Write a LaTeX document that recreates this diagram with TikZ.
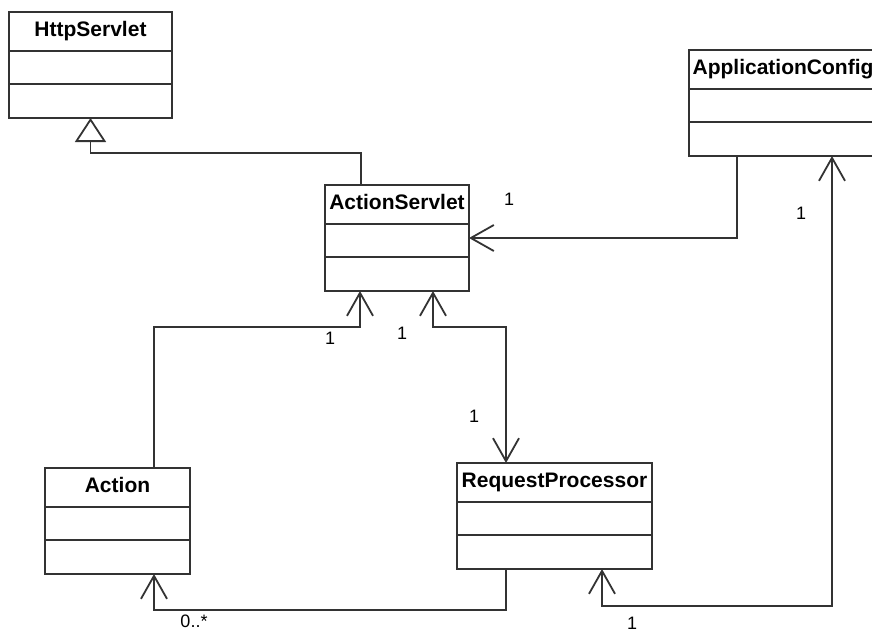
\documentclass[tikz,border=0pt]{standalone}
\usepackage{fontspec}
\setmainfont{Liberation Sans}
\setsansfont{Liberation Sans}
\usepackage{xcolor}
\usepackage{tikz}
\usetikzlibrary{shapes.multipart,arrows.meta,calc}
\definecolor{linegray}{rgb}{0.2,0.2,0.2}

\begin{document}
\begin{tikzpicture}[x=1pt, y=-1pt, font=\sffamily,
    umlclass/.style={rectangle split, rectangle split parts=3, draw=linegray, line width=1.8pt,
        inner xsep=0pt, inner ysep=0pt, outer sep=0pt, anchor=north west,
        font=\sffamily\fontsize{21}{24}\selectfont\bfseries},
    mult/.style={font=\sffamily\fontsize{18}{20}\selectfont, inner sep=0pt},
    gen/.style={draw=linegray, line width=1.8pt, -{Triangle[open, fill=white, length=24pt, width=31pt]}},
    assoc/.style={draw=linegray, line width=1.8pt, -{Straight Barb[length=23pt, width=26pt]}},
    assocboth/.style={draw=linegray, line width=1.8pt, {Straight Barb[length=23pt, width=26pt]}-{Straight Barb[length=23pt, width=26pt]}}]
        \useasboundingbox (0,0) rectangle (872,632);

        % Classes
        \node [umlclass, minimum width=163pt] (http) at (9,12)
            {\rule[-13.6pt]{0pt}{37.2pt}HttpServlet \nodepart{two}\rule{0pt}{31.2pt} \nodepart{three}\rule{0pt}{32.2pt}};
        \node [umlclass, minimum width=144pt] (asv) at (325,185)
            {\rule[-13.6pt]{0pt}{37.2pt}ActionServlet \nodepart{two}\rule{0pt}{31.2pt} \nodepart{three}\rule{0pt}{32.2pt}};
        \node [umlclass, minimum width=188pt] (cfg) at (689,50)
            {\rule[-13.6pt]{0pt}{37.2pt}ApplicationConfig \nodepart{two}\rule{0pt}{31.2pt} \nodepart{three}\rule{0pt}{32.2pt}};
        \node [umlclass, minimum width=145pt] (act) at (45,468)
            {\rule[-13.6pt]{0pt}{37.2pt}Action \nodepart{two}\rule{0pt}{31.2pt} \nodepart{three}\rule{0pt}{32.2pt}};
        \node [umlclass, minimum width=195pt] (rp) at (457,463)
            {\rule[-13.6pt]{0pt}{37.2pt}RequestProcessor \nodepart{two}\rule{0pt}{31.2pt} \nodepart{three}\rule{0pt}{32.2pt}};

        % Inheritance
        \draw [gen] ($(asv.north west)+(36,0)$) -- ++(0,-32) -| (http.south);

        % Associations
        \draw [assoc] ($(cfg.south west)+(48,0)$) |- (asv.east);
        \draw [assoc] ($(act.north west)+(109,0)$) |- ($(asv.south west)+(35,36)$) -- ($(asv.south west)+(35,0)$);
        \draw [assocboth] ($(asv.south west)+(108,0)$) |- ($(rp.north west)+(49,-136)$) -- ($(rp.north west)+(49,0)$);
        \draw [assoc] ($(rp.south west)+(49,0)$) |- ($(act.south west)+(109,36)$) -- ($(act.south west)+(109,0)$);
        \draw [assocboth] ($(rp.south west)+(145,0)$) |- ($(cfg.south west)+(143,450)$) -- ($(cfg.south west)+(143,0)$);

        % Multiplicities
        \node [mult] (m1) at (509,199) {1};
        \node [mult] (m2) at (801,213) {1};
        \node [mult] (m3) at (330,338) {1};
        \node [mult] (m4) at (402,333) {1};
        \node [mult] (m5) at (474,416) {1};
        \node [mult] (m6) at (632,623) {1};
        \node [mult] (m7) at (194,621) {0..*};
    \end{tikzpicture}
\end{document}
